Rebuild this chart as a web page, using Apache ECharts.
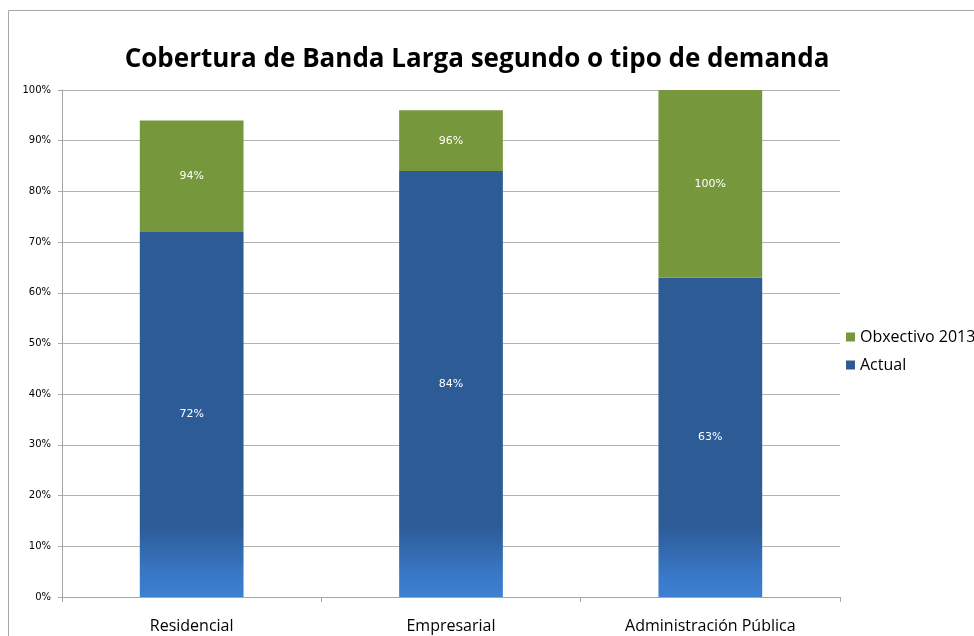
<!DOCTYPE html>
<html>
<head>
<meta charset="utf-8">
<script src="https://cdn.jsdelivr.net/npm/echarts@6/dist/echarts.min.js"></script>
<style>
  html, body { margin: 0; padding: 0; background: #fff; }
  #chart { width: 974px; height: 636px; }
</style>
</head>
<body>
<div id="chart"></div>
<script>
const categories = ["Residencial", "Empresarial", "Administración Pública"];
const actual = [72, 84, 63];
const objective = [94, 96, 100];
const yTicks = [0, 10, 20, 30, 40, 50, 60, 70, 80, 90, 100];

const gap = objective.map((v, i) => v - actual[i]);

const chart = echarts.init(document.getElementById("chart"));

const labelStyle = {
  show: true,
  position: "inside",
  color: "#fff",
  fontSize: 11,
  fontFamily: "DejaVu Sans",
};

chart.setOption({
  animation: false,
  title: {
    text: "Cobertura de Banda Larga segundo o tipo de demanda",
    left: 472,
    textAlign: "center",
    top: 42,
    textStyle: {
      fontFamily: "Open Sans",
      fontWeight: "bold",
      fontSize: 26,
      color: "#000",
    },
  },
  graphic: [
    {
      type: "rect",
      shape: { x: 8.5, y: 10.5, width: 1000, height: 700 },
      style: { fill: "none", stroke: "#a6a6a6", lineWidth: 1 },
      silent: true,
    },
  ],
  legend: {
    orient: "vertical",
    left: 841,
    top: 324,
    itemWidth: 9,
    itemHeight: 9,
    itemGap: 12,
    icon: "rect",
    data: ["Obxectivo 2013", "Actual"],
    textStyle: { fontFamily: "Open Sans", fontSize: 16, color: "#000" },
  },
  grid: { left: 62, right: 134, top: 90, bottom: 39, containLabel: false },
  xAxis: {
    type: "category",
    data: categories,
    axisLine: { lineStyle: { color: "#a6a6a6", width: 1 } },
    axisTick: { show: true, length: 5, lineStyle: { color: "#a6a6a6" } },
    axisLabel: {
      fontFamily: "Open Sans",
      fontSize: 16,
      color: "#000",
      margin: 21,
    },
  },
  yAxis: {
    type: "value",
    min: 0,
    max: 100,
    interval: 10,
    axisLine: { show: true, lineStyle: { color: "#a6a6a6" } },
    axisTick: { show: true, length: 4, lineStyle: { color: "#a6a6a6" } },
    splitLine: { lineStyle: { color: "#b3b3b3", width: 1 } },
    axisLabel: {
      fontFamily: "DejaVu Sans",
      fontSize: 10,
      color: "#000",
      margin: 11,
      formatter: (v) => (yTicks.includes(v) ? v + "%" : ""),
    },
  },
  series: [
    {
      name: "Actual",
      type: "bar",
      stack: "total",
      barWidth: "40%",
      data: actual,
      itemStyle: {
        color: {
          type: "linear",
          x: 0, y: 597, x2: 0, y2: 525,
          global: true,
          colorStops: [
            { offset: 0, color: "#3d80d2" },
            { offset: 0.3, color: "#3a78c7" },
            { offset: 1, color: "#2c5b96" },
          ],
        },
      },
      label: { ...labelStyle, formatter: (p) => actual[p.dataIndex] + "%" },
    },
    {
      name: "Obxectivo 2013",
      type: "bar",
      stack: "total",
      barWidth: "40%",
      data: gap,
      itemStyle: { color: "#77973c" },
      label: { ...labelStyle, formatter: (p) => objective[p.dataIndex] + "%" },
    },
  ],
});

window.addEventListener("resize", () => {
  chart.resize();
});
</script>
</body>
</html>
